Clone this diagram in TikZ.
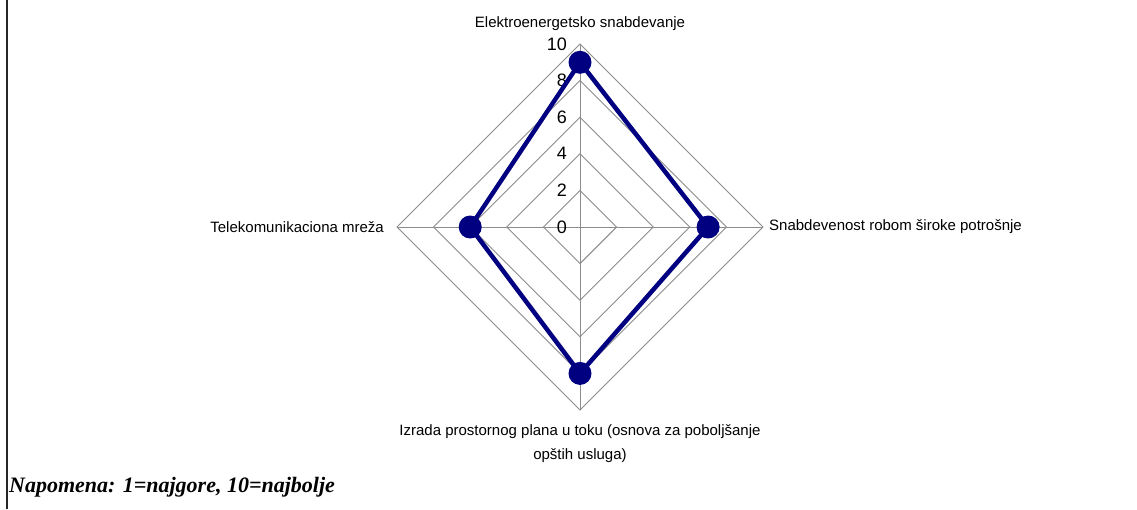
\documentclass[tikz,border=0pt]{standalone}
\usepackage{fontspec}
\setmainfont{Liberation Sans}
\newfontfamily\tnr{Liberation Serif}
\begin{document}
\begin{tikzpicture}[x=1pt,y=-1pt,
  gridline/.style={draw=black!45, line width=0.9pt},
  series/.style={draw=blue!50!black, line width=4.5pt, line join=round},
  marker/.style={circle, fill=blue!50!black, minimum size=23pt, inner sep=0pt},
  cat/.style={font=\fontsize{15}{18}\selectfont, inner sep=0pt},
  tick/.style={font=\fontsize{18}{20}\selectfont, inner sep=0pt, anchor=east},
  note/.style={font=\tnr\bfseries\itshape\fontsize{22}{26}\selectfont, inner sep=0pt, anchor=base west}]
\useasboundingbox (0,0) rectangle (1137,509);
\fill[white] (0,0) rectangle (1137,509);
\def\u{18.3}
\coordinate (C) at (580,227);
% rings
\foreach \k in {2,4,6,8,10}{
  \draw[gridline] (580,227-\u*\k) -- (580+\u*\k,227) -- (580,227+\u*\k) -- (580-\u*\k,227) -- cycle;
}
% axes
\coordinate (aT) at (580,{227-10*\u});
\coordinate (aR) at ({580+10*\u},227);
\coordinate (aB) at (580,{227+10*\u});
\coordinate (aL) at ({580-10*\u},227);
\draw[gridline] (C) -- (aT);
\draw[gridline] (C) -- (aR);
\draw[gridline] (C) -- (aB);
\draw[gridline] (C) -- (aL);
% tick labels
\foreach \k in {0,2,4,6,8,10}{
  \node[tick] (t\k) at (567,{227-\u*\k}) {\k};
}
% data
\node[marker] (pT) at (580,{227-9*\u}) {};
\node[marker] (pR) at ({580+7*\u},227) {};
\node[marker] (pB) at (580,{227+8*\u}) {};
\node[marker] (pL) at ({580-6*\u},227) {};
\draw[series] (pT.center) -- (pR.center) -- (pB.center) -- (pL.center) -- cycle;
% category labels
\node[cat, anchor=base] (lT) at (580,27) {Elektroenergetsko snabdevanje};
\node[cat, anchor=west] (lR) at (769,227) {Snabdevenost robom široke potrošnje};
\node[cat, anchor=east] (lL) at (384,227) {Telekomunikaciona mreža};
\node[cat, anchor=center] (lB1) at (580,432) {Izrada prostornog plana u toku (osnova za poboljšanje};
\node[cat, anchor=center] (lB2) at (580,456) {opštih usluga)};
% frame line and note
\draw[draw=black!85, line width=2pt] (6.5,0) -- (6.5,509);
\node[note] (n) at (9,492) {Napomena: 1=najgore, 10=najbolje};
\end{tikzpicture}
\end{document}
